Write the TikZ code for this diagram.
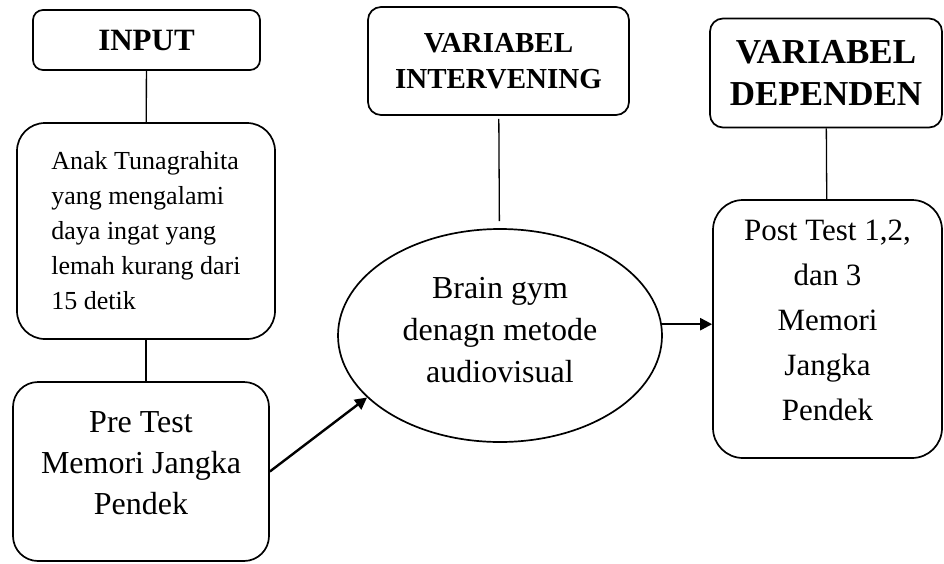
\documentclass[tikz,border=0pt]{standalone}
\usepackage{fontspec}
\setmainfont{Liberation Serif}
\usetikzlibrary{shapes.geometric, arrows.meta}
\tikzset{
  judul/.style={draw, line width=1.7pt, rounded corners=13pt, align=center, inner sep=0pt},
  isi/.style={draw, line width=1.7pt, rounded corners=28pt, align=center, inner sep=0pt},
  teks/.style={align=center, inner sep=0pt},
  garis/.style={line width=1.3pt},
  panah/.style={line width=2.4pt, -{Triangle[length=12pt,width=12pt]}}
}

\begin{document}
\begin{tikzpicture}[x=1pt,y=-1pt]
                \useasboundingbox (0,0) rectangle (944,563);
                \node[judul, minimum width=227, minimum height=60, rounded corners=10pt, font=\fontsize{31}{36}\selectfont\bfseries] (input) at (146.5,40) {INPUT};
                \node[judul, minimum width=261, minimum height=108, font=\fontsize{29}{36}\selectfont\bfseries] (intv) at (498.5,61) {VARIABEL\\INTERVENING};
                \node[judul, minimum width=232, minimum height=109, font=\fontsize{35}{42}\selectfont\bfseries] (dep) at (826,73) {VARIABEL\\DEPENDEN};
                \node[isi, minimum width=258, minimum height=216, align=left, font=\fontsize{26}{35}\selectfont] (anak) at (146,231) {Anak Tunagrahita\\yang mengalami\\daya ingat yang\\lemah kurang dari\\15 detik};
                \node[isi, minimum width=256, minimum height=179, rounded corners=25pt] (pre) at (141,471.5) {};
                \node[teks, font=\fontsize{32}{41}\selectfont] (pretxt) at (141,463) {Pre Test\\Memori Jangka\\Pendek};
                \node[draw, ellipse, line width=1.7pt, minimum width=324, minimum height=213, inner sep=0pt] (brain) at (500,335.5) {};
                \node[teks, font=\fontsize{32}{42}\selectfont] (braintxt) at (500,330) {Brain gym\\denagn metode\\audiovisual};
                \node[isi, minimum width=229, minimum height=258, rounded corners=30pt] (post) at (827.5,329) {};
                \node[teks, font=\fontsize{31}{45}\selectfont] (posttxt) at (827.5,320) {Post Test 1,2,\\dan 3\\Memori\\Jangka\\Pendek};
                \draw[garis] (input) -- (anak);
                \draw[garis] (anak) -- (anak |- pre.north);
                \draw[garis, shorten <=3pt, shorten >=7pt] (intv) -- (brain);
                \draw[garis] (dep) -- (post);
                \draw[panah] (pre.east) -- (brain.205);
                \draw[panah] (brain.4) -- (brain.4 -| post.west);
            \end{tikzpicture}
\end{document}
